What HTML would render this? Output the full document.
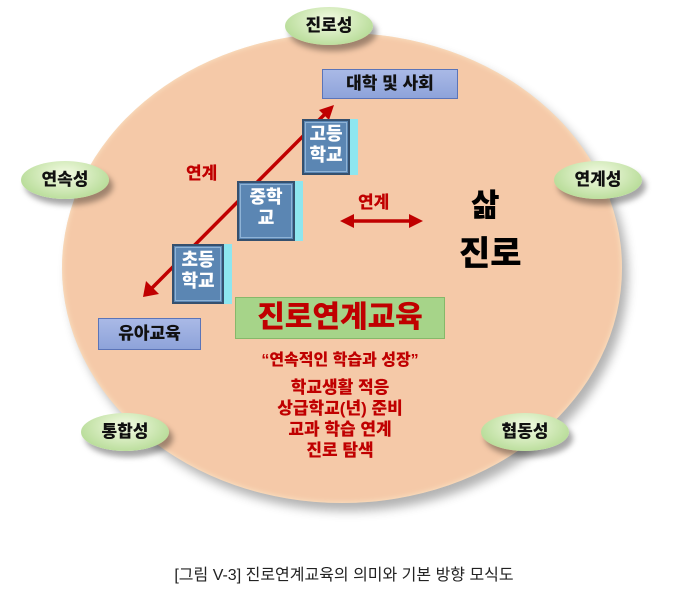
<!DOCTYPE html>
<html><head><meta charset="utf-8"><style>
body{margin:0;width:688px;height:602px;background:#fff;position:relative;overflow:hidden;font-family:"Liberation Sans","Noto Sans CJK KR",sans-serif}
.a{position:absolute}
.ov{position:absolute;width:88px;height:38px;border-radius:50%;background:radial-gradient(ellipse at 50% 35%,#f4fbe4,#b9dd9a 75%,#9cc97c);box-shadow:4px 6px 6px rgba(0,0,0,.35);font-weight:900;font-size:17px;text-align:center;line-height:38px;color:#111}
.bx{position:absolute;background:linear-gradient(#a9b9e6,#8ea3da);border:1px solid #5b74b8;font-weight:900;font-size:17px;text-align:center;color:#111}
.sc{position:absolute;background:#5b86b3;border:2px solid #35506e;outline:1px solid #8fb3d6;outline-offset:-4px;color:#fff;font-weight:900;font-size:18px;line-height:21px;text-align:center;box-shadow:8px 0 0 #8ee6ef}
.r{color:#c00000;font-weight:900}
</style></head><body>
<div class="a" style="left:62px;top:33px;width:560px;height:470px;border-radius:50%;background:#f5c9a8;box-shadow:6px 8px 10px rgba(0,0,0,.3), inset 0 0 6px #fbe7c8"></div>
<svg class="a" style="left:0;top:0" width="688" height="602">
<line x1="150" y1="290" x2="327" y2="112" stroke="#c00000" stroke-width="3.5"/>
<path d="M334,105 L329,120 L319,110z" fill="#c00000"/>
<path d="M143,297 L146,281 L159,294z" fill="#c00000"/>
<line x1="352" y1="221" x2="412" y2="221" stroke="#c00000" stroke-width="3.5"/>
<path d="M340,221 L354,214 L354,228z M423,221 L409,214 L409,228z" fill="#c00000"/>
</svg>
<div class="ov" style="left:285px;top:7px">진로성</div>
<div class="ov" style="left:21px;top:161px">연속성</div>
<div class="ov" style="left:554px;top:161px">연계성</div>
<div class="ov" style="left:81px;top:413px">통합성</div>
<div class="ov" style="left:481px;top:413px">협동성</div>
<div class="bx" style="left:322px;top:69px;width:134px;height:28px;line-height:28px">대학 및 사회</div>
<div class="bx" style="left:98px;top:318px;width:101px;height:30px;line-height:30px">유아교육</div>
<div class="sc" style="left:302px;top:119px;width:44px;height:49px;padding-top:3px">고등<br>학교</div>
<div class="sc" style="left:237px;top:181px;width:54px;height:52px;padding-top:4px">중학<br>교</div>
<div class="sc" style="left:172px;top:244px;width:48px;height:52px;padding-top:4px">초등<br>학교</div>
<div class="a r" style="left:186px;top:159px;font-size:17px">연계</div>
<div class="a r" style="left:358px;top:188px;font-size:17px">연계</div>
<div class="a" style="left:471px;top:180px;font-size:31px;font-weight:900">삶</div>
<div class="a" style="left:459px;top:226px;font-size:34px;font-weight:900">진로</div>
<div class="a r" style="left:235px;top:297px;width:208px;height:40px;background:#a6d489;border:1px solid #86b86a;text-align:center;line-height:40px;font-size:30px">진로연계교육</div>
<div class="a r" style="left:190px;top:346px;width:300px;text-align:center;font-size:16px">“연속적인 학습과 성장”</div>
<div class="a r" style="left:190px;top:377px;width:300px;text-align:center;font-size:17px;line-height:21px">학교생활 적응<br>상급학교(년) 준비<br>교과 학습 연계<br>진로 탐색</div>
<div class="a" style="left:0;top:561px;width:688px;text-align:center;font-size:16px;color:#222">[그림 V-3] 진로연계교육의 의미와 기본 방향 모식도</div>
</body></html>
